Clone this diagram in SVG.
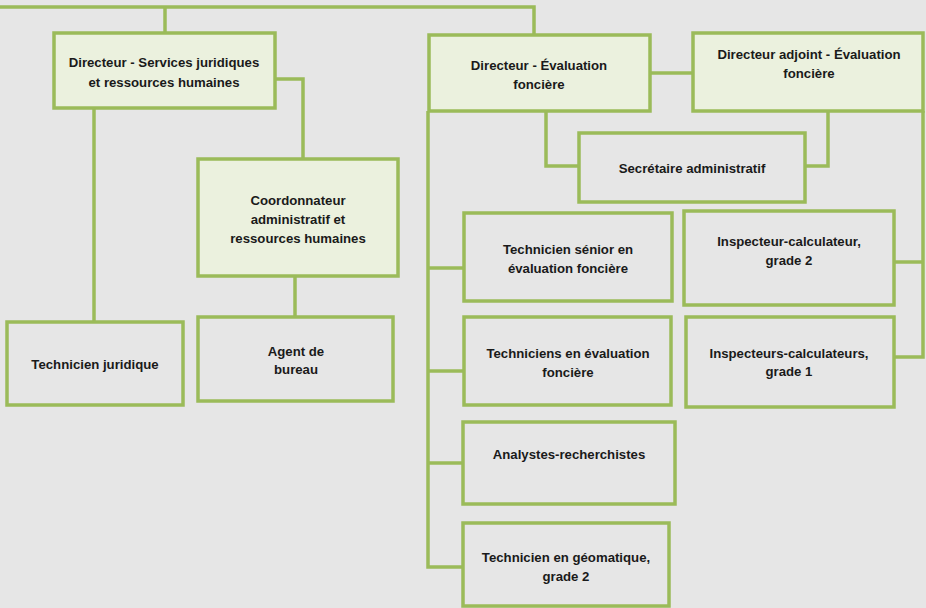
<svg xmlns="http://www.w3.org/2000/svg" width="926" height="608" viewBox="0 0 926 608">
<style>
.bg{fill:#e6e6e6}
.box{stroke:#9bbb59;stroke-width:3.5;fill:#e6e6e6}
.hd{fill:#ebf1de}
.ln{stroke:#9bbb59;stroke-width:3.5;fill:none}
text{font-family:"Liberation Sans",Arial,sans-serif;font-weight:bold;font-size:13.2px;fill:#1a1a1a;text-anchor:middle}
</style>
<rect class="bg" x="0" y="0" width="926" height="608"/>
<g id="connectors">
<path class="ln" d="M0,7 H534 V35"/>
<path class="ln" d="M165,7 V33"/>
<path class="ln" d="M275,79 H303 V159"/>
<path class="ln" d="M94,108 V322"/>
<path class="ln" d="M295,276 V317"/>
<path class="ln" d="M650,73 H693"/>
<path class="ln" d="M546,111 V166 H579"/>
<path class="ln" d="M828,111 V166 H805"/>
<path class="ln" d="M428,111 V567 H463"/>
<path class="ln" d="M428,268 H464"/>
<path class="ln" d="M428,371 H464"/>
<path class="ln" d="M428,463 H463"/>
<path class="ln" d="M923,111 V357 H894"/>
<path class="ln" d="M894,262 H923"/>
</g>
<g id="dir_sjrh"><rect class="box hd" x="54" y="33" width="221" height="75"/><text x="164" y="67">Directeur - Services juridiques</text><text x="164" y="87">et ressources humaines</text></g>
<g id="coord"><rect class="box hd" x="198" y="159" width="200" height="117"/><text x="298" y="205">Coordonnateur</text><text x="298" y="224">administratif et</text><text x="298" y="243">ressources humaines</text></g>
<g id="tech_jur"><rect class="box" x="7" y="322" width="176" height="83"/><text x="95" y="369">Technicien juridique</text></g>
<g id="agent"><rect class="box" x="198" y="317" width="195" height="84"/><text x="296" y="356">Agent de</text><text x="296" y="374">bureau</text></g>
<g id="dir_eval"><rect class="box hd" x="429" y="35" width="221" height="76"/><text x="539" y="70">Directeur - Évaluation</text><text x="539" y="89">foncière</text></g>
<g id="dir_adj"><rect class="box hd" x="693" y="33" width="230" height="78"/><text x="809" y="59">Directeur adjoint - Évaluation</text><text x="809" y="78">foncière</text></g>
<g id="secr"><rect class="box" x="579" y="133" width="226" height="69"/><text x="692" y="173">Secrétaire administratif</text></g>
<g id="tech_sen"><rect class="box" x="464" y="213" width="208" height="88"/><text x="568" y="254">Technicien sénior en</text><text x="568" y="273">évaluation foncière</text></g>
<g id="insp2"><rect class="box" x="684" y="211" width="210" height="94"/><text x="789" y="246">Inspecteur-calculateur,</text><text x="789" y="265">grade 2</text></g>
<g id="tech_eval"><rect class="box" x="464" y="317" width="207" height="88"/><text x="568" y="358">Techniciens en évaluation</text><text x="568" y="377">foncière</text></g>
<g id="insp1"><rect class="box" x="686" y="317" width="208" height="90"/><text x="789" y="358">Inspecteurs-calculateurs,</text><text x="789" y="376">grade 1</text></g>
<g id="analystes"><rect class="box" x="463" y="422" width="212" height="82"/><text x="569" y="459">Analystes-recherchistes</text></g>
<g id="geom"><rect class="box" x="463" y="523" width="206" height="83"/><text x="566" y="562">Technicien en géomatique,</text><text x="566" y="581">grade 2</text></g>
</svg>
